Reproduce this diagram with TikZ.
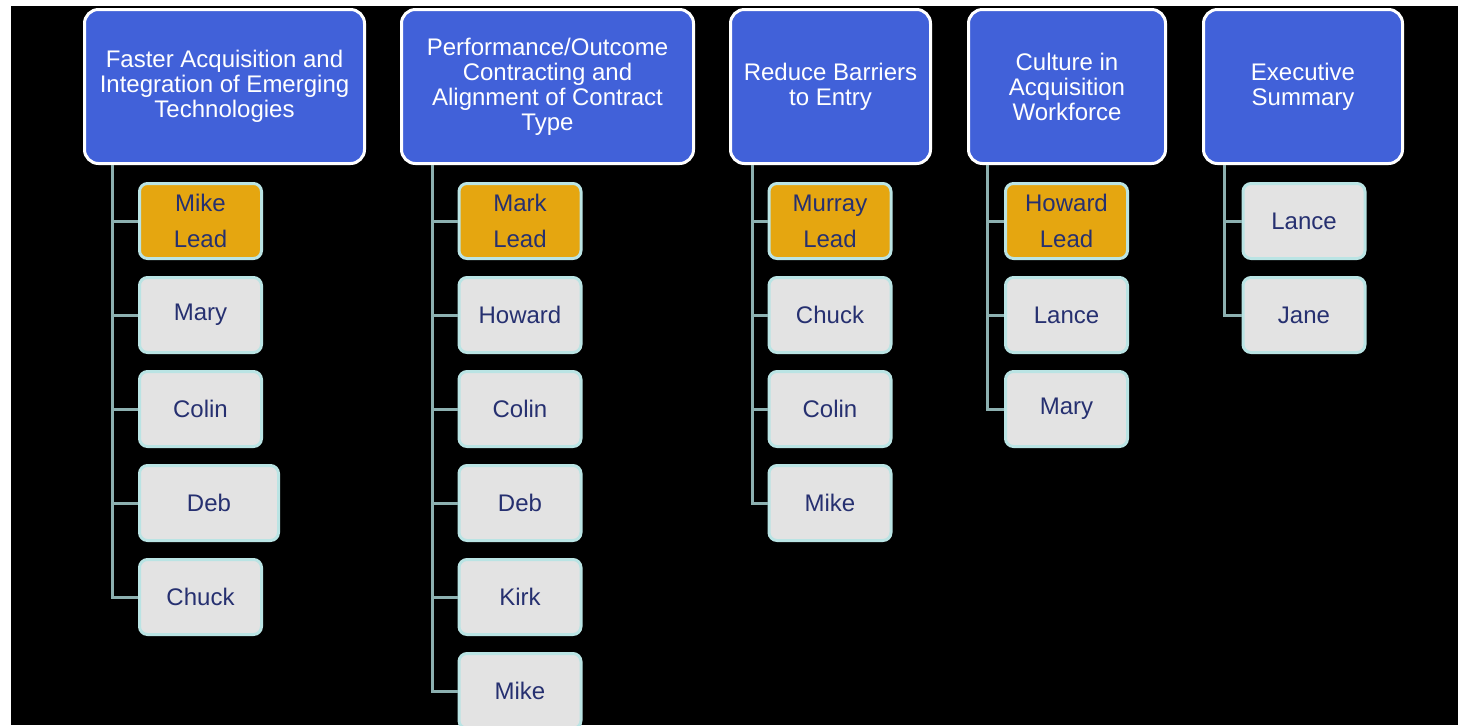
\documentclass[tikz,border=0pt]{standalone}
\usepackage{fontspec}
\setmainfont{Liberation Sans}
\usetikzlibrary{positioning}

\definecolor{headblue}{RGB}{65,97,217}
\definecolor{leadgold}{RGB}{229,166,16}
\definecolor{memgray}{RGB}{227,227,227}
\definecolor{memrim}{RGB}{186,228,228}
\definecolor{memtext}{RGB}{38,48,112}
\definecolor{branchgray}{RGB}{140,176,176}

\begin{document}
\begin{tikzpicture}[
                x=0.5pt,y=-0.5pt,
                head/.style={draw=white,line width=1.5pt,fill=headblue,rounded corners=7pt,
                    text=white,align=center,inner sep=2pt,minimum height=77pt,
                    font=\fontsize{12}{12.5}\selectfont},
                member/.style={draw=memrim,line width=1.5pt,fill=memgray,rounded corners=4pt,
                    text=memtext,align=center,inner sep=2pt,minimum width=61pt,minimum height=37.5pt,
                    font=\fontsize{12}{18}\selectfont},
                lead/.style={member,fill=leadgold},
                wide/.style={minimum width=69.5pt,xshift=4.25pt},
                branch/.style={draw=branchgray,line width=1.5pt}
            ]
                \useasboundingbox[fill=white] (0,0) rectangle (1458,725);
                \fill[black] (11,6) rectangle (1458,725);
                % column heads
                \node [head,minimum width=140pt] (h1) at (224.5,86.5) {Faster Acquisition  and\\Integration  of Emerging\\Technologies};
                \node [head,minimum width=146pt] (h2) at (547.5,86.5) {Performance/Outcome\\Contracting  and\\Alignment  of Contract\\Type};
                \node [head,minimum width=100pt] (h3) at (830.5,86.5) {Reduce Barriers\\to Entry};
                \node [head,minimum width=98.5pt] (h4) at (1067,86.5) {Culture  in\\Acquisition\\Workforce};
                \node [head,minimum width=99.5pt] (h5) at (1303,86.5) {Executive\\Summary};
                \foreach \c/\tx in {1/112.5,2/432,3/752,4/987,5/1224} {
                    \coordinate (t\c) at (\tx,0);
                }
                % leads
                \foreach \c/\nm in {1/Mike,2/Mark,3/Murray,4/Howard} {
                    \pgfmathsetmacro\cx{{200.5,520,830,1066.5,1304}[\c-1]}
                    \node [lead] (p\c-1) at (\cx,221) {\nm\\Lead};
                    \draw [branch] (h\c.south -| t\c) |- (p\c-1.west);
                }
                % members
                \foreach \c/\r/\nm/\extra in {1/2/Mary/{},1/3/Colin/{},1/4/Deb/wide,1/5/Chuck/{},
                        2/2/Howard/{},2/3/Colin/{},2/4/Deb/{},2/5/Kirk/{},2/6/Mike/{},
                        3/2/Chuck/{},3/3/Colin/{},3/4/Mike/{},
                        4/2/Lance/{},4/3/Mary/{},
                        5/1/Lance/{},5/2/Jane/{}} {
                    \pgfmathsetmacro\cx{{200.5,520,830,1066.5,1304}[\c-1]}
                    \pgfmathsetmacro\cy{221+94*(\r-1)}
                    \node [member,\extra] (p\c-\r) at (\cx,\cy) {\nm};
                    \draw [branch] (h\c.south -| t\c) |- (p\c-\r.west);
                }
            \end{tikzpicture}
\end{document}
